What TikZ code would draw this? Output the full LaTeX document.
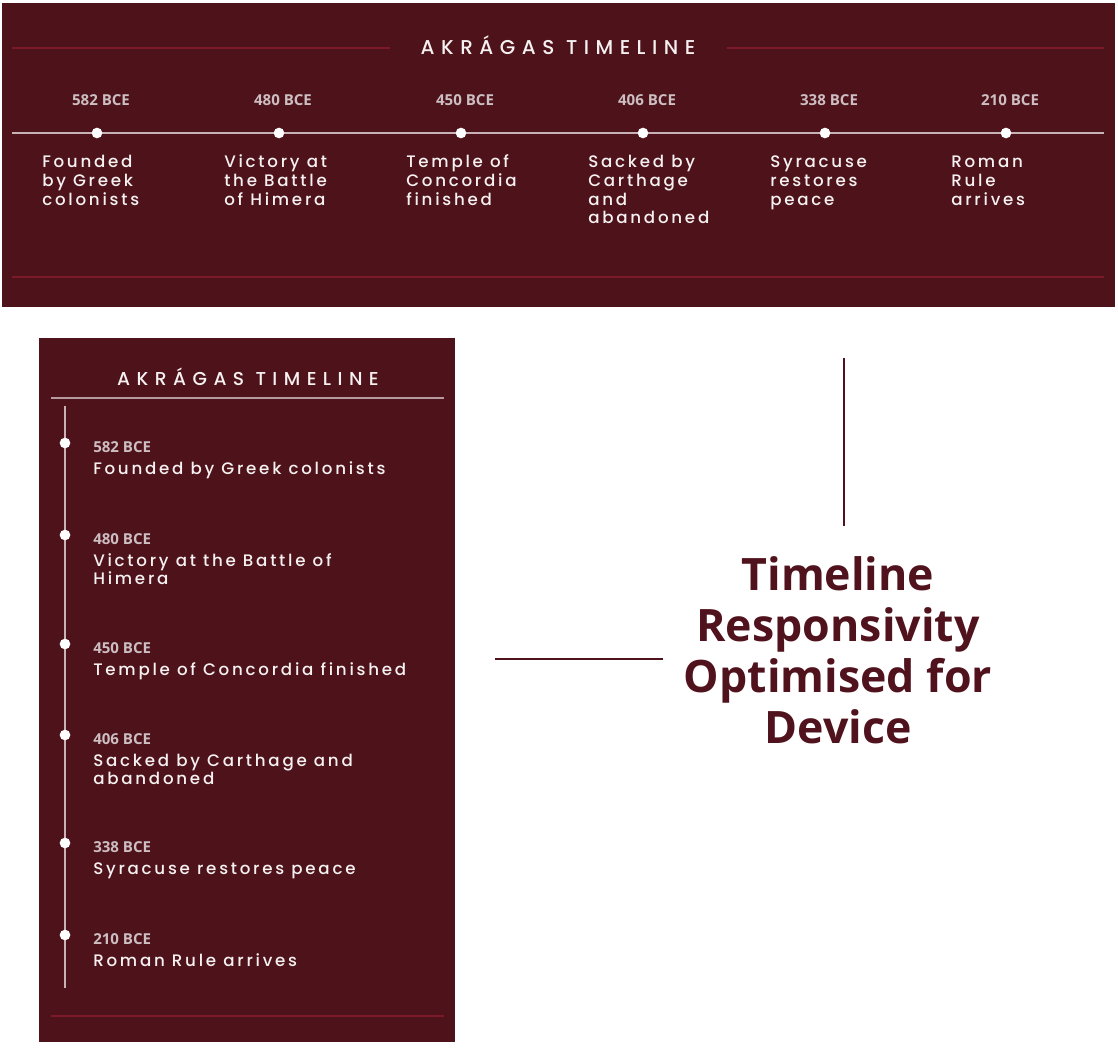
\documentclass[tikz,border=0pt]{standalone}
\usepackage{fontspec}
\newfontfamily\bodyfont[LetterSpace=16.5]{Poppins Medium}
\newfontfamily\headfont[LetterSpace=32.5]{Poppins Medium}
\newfontfamily\narrowheadfont[LetterSpace=34.5]{Poppins Medium}
\newfontfamily\yearfont{Open Sans}
\newfontfamily\callfont{Open Sans}
\definecolor{panel}{RGB}{78,18,27}
\definecolor{rule}{RGB}{125,26,42}
\definecolor{track}{RGB}{200,178,182}
\definecolor{yearcol}{RGB}{205,190,193}
\definecolor{ink}{RGB}{246,241,241}
\definecolor{wine}{RGB}{80,18,28}
% first-baseline multi-line blocks
\newcommand{\leftlines}[1]{\begin{tabular}[t]{@{}l@{}}#1\end{tabular}}
\newcommand{\centerlines}[1]{\begin{tabular}[t]{@{}c@{}}#1\end{tabular}}
\begin{document}
\begin{tikzpicture}[x=0.75pt,y=-0.75pt,
  year/.style={font=\yearfont\bfseries\fontsize{11.3}{14}\selectfont, text=yearcol, inner sep=0},
  desc/.style={font=\bodyfont\fontsize{12.5}{13.9}\selectfont, text=ink, inner sep=0, anchor=base west},
  head/.style={font=\headfont\fontsize{15}{17}\selectfont, text=ink, inner sep=0, anchor=base},
  dot/.style={circle, fill=white, draw=none, inner sep=0, minimum size=8pt},
  redrule/.style={draw=rule, line width=1.1pt},
  trackline/.style={draw=track, line width=0.8pt},
  callout/.style={draw=wine, line width=1.4pt},
  calltext/.style={font=\callfont\bfseries\fontsize{33.5}{38.3}\selectfont, text=wine, inner sep=0, anchor=base}]
\useasboundingbox (0,0) rectangle (1118,1059);
\fill[white] (0,0) rectangle (1118,1059);

% ---------- wide layout ----------
\fill[panel] (2,3) rectangle (1115,307);
\node[head] (wtitle) at (558,55) {AKRÁGAS TIMELINE};
\coordinate (wrl1) at (12,48);
\coordinate (wrl2) at (390,48);
\coordinate (wrr1) at (727,48);
\coordinate (wrr2) at (1104,48);
\draw[redrule] (wrl1) -- (wrl2);
\draw[redrule] (wrr1) -- (wrr2);
\coordinate (wtrack1) at (12,133);
\coordinate (wtrack2) at (1104,133);
\draw[trackline] (wtrack1) -- (wtrack2);
\coordinate (wbot1) at (12,277);
\coordinate (wbot2) at (1104,277);
\draw[redrule] (wbot1) -- (wbot2);

\foreach \x/\yr/\txt [count=\i] in {
  97/582 BCE/{Founded\\by Greek\\colonists},
  279/480 BCE/{Victory at\\the Battle\\of Himera},
  461/450 BCE/{Temple of\\Concordia\\finished},
  643/406 BCE/{Sacked by\\Carthage\\and\\abandoned},
  825/338 BCE/{Syracuse\\restores\\peace},
  1006/210 BCE/{Roman\\Rule\\arrives}}{
  \node[dot] (wd\i) at (\x,133) {};
  \node[year, anchor=base] (wy\i) at (\x+4,106) {\yr};
  \node[desc] (wt\i) at (\x-55,168) {\leftlines{\txt}};
}

% ---------- narrow layout ----------
\fill[panel] (39,338) rectangle (455,1042);
\node[head, font=\narrowheadfont\fontsize{14}{16}\selectfont] (ntitle) at (248,386) {AKRÁGAS TIMELINE};
\coordinate (nhl1) at (51,398);
\coordinate (nhl2) at (444,398);
\draw[draw=track!85!panel, line width=0.9pt] (nhl1) -- (nhl2);
\coordinate (ntrack1) at (65,406);
\coordinate (ntrack2) at (65,988);
\draw[trackline] (ntrack1) -- (ntrack2);
\coordinate (nbot1) at (51,1016);
\coordinate (nbot2) at (444,1016);
\draw[redrule] (nbot1) -- (nbot2);

\foreach \y/\yr/\txt [count=\i] in {
  443/582 BCE/{Founded by Greek colonists},
  535/480 BCE/{Victory at the Battle of\\Himera},
  644/450 BCE/{Temple of Concordia finished},
  735/406 BCE/{Sacked by Carthage and\\abandoned},
  843/338 BCE/{Syracuse restores peace},
  935/210 BCE/{Roman Rule arrives}}{
  \node[dot] (nd\i) at (65,\y) {};
  \node[year, anchor=base west] (ny\i) at (93,\y+9) {\yr};
  \node[desc] (nt\i) at (93,\y+31) {\leftlines{\txt}};
}

% ---------- caption ----------
\node[calltext] (cap) at (838,590) {\centerlines{Timeline\\Responsivity\\Optimised for\\Device}};
\coordinate (cv1) at (844,358);
\coordinate (cv2) at (844,526);
\draw[callout] (cv1) -- (cv2);
\coordinate (ch1) at (495,659);
\coordinate (ch2) at (663,659);
\draw[callout] (ch1) -- (ch2);
\end{tikzpicture}
\end{document}
